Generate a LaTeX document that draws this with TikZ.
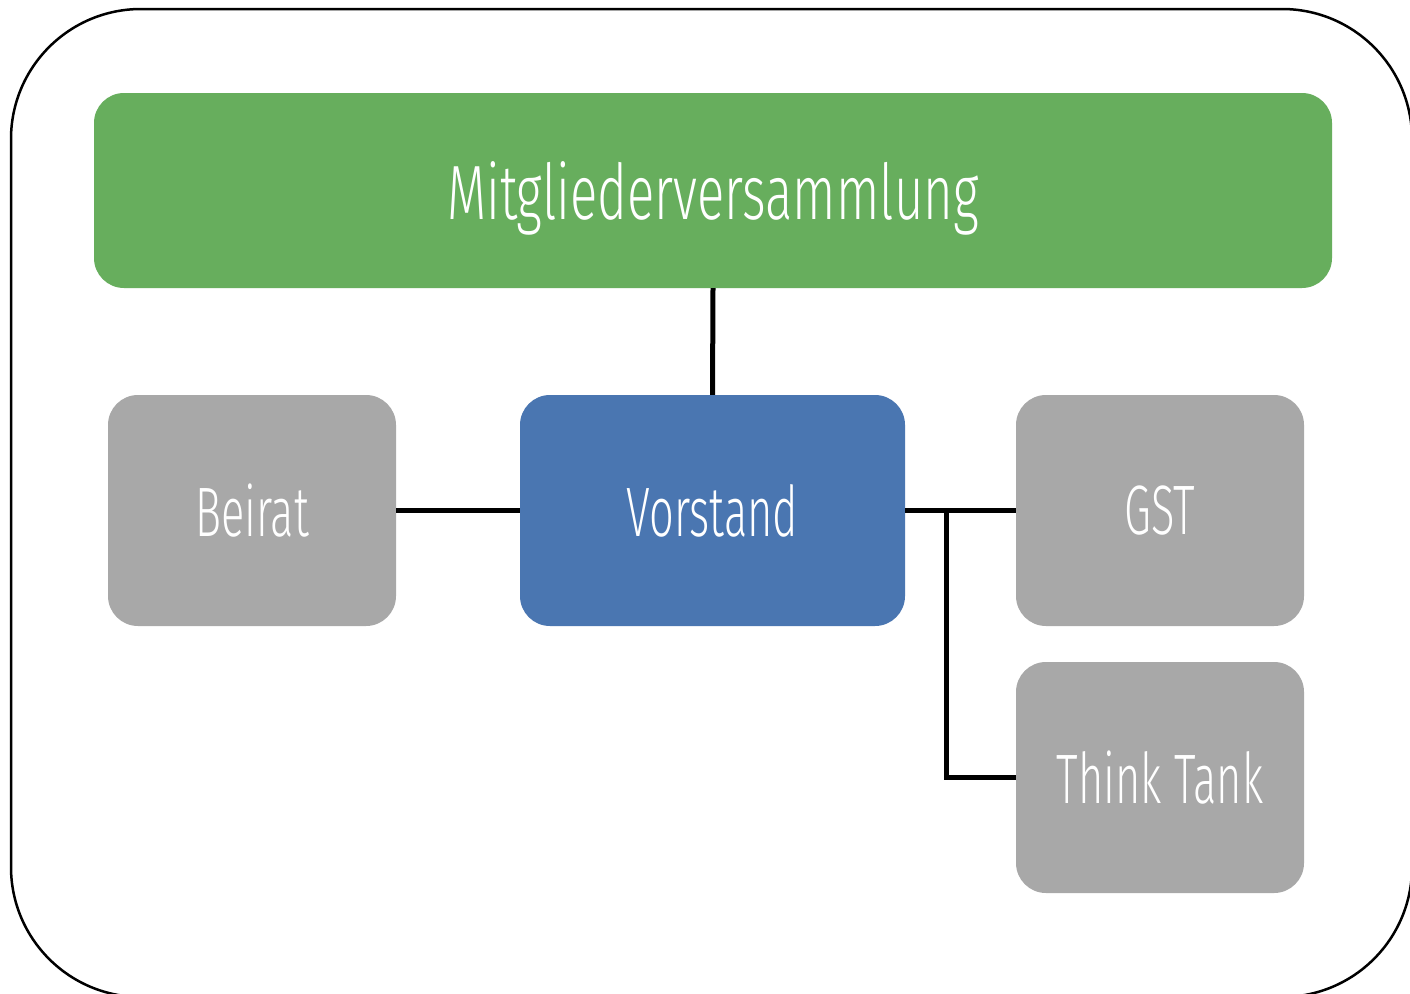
\documentclass[tikz,border=0pt]{standalone}
\usepackage{fontspec}
\newfontfamily\lblfont[FakeStretch=0.62]{Fira Sans Light}
\newfontfamily\headfont[FakeStretch=0.66]{Fira Sans Light}
\definecolor{mvgreen}{HTML}{67AE5D}
\definecolor{vsblue}{HTML}{4A76B1}
\definecolor{boxgray}{HTML}{A8A8A8}
\tikzset{
  orgbox/.style={rectangle, rounded corners=30pt, inner sep=0pt, text=white,
    text depth=0pt, font=\lblfont\fontsize{70}{70}\selectfont,
    minimum width=288pt, minimum height=231pt},
  link/.style={line width=5pt, black},
  frame/.style={line width=2.5pt, black, rounded corners=130pt}
}
\begin{document}
\begin{tikzpicture}[x=1pt,y=-1pt]
  \clip (0,0) rectangle (1410,993);
  \fill[white] (0,0) rectangle (1410,993);
  \draw[frame] (11,9) rectangle (1412,997);

  \node[orgbox, fill=mvgreen, minimum width=1238pt, minimum height=195pt,
        font=\headfont\fontsize{77}{77}\selectfont] (mv) at (713,190.5) {Mitgliederversammlung};
  \node[orgbox, fill=vsblue, minimum width=385pt] (vs) at (712.5,510.5) {Vorstand};
  \node[orgbox, fill=boxgray] (br) at (252,510.5) {Beirat};
  \node[orgbox, fill=boxgray] (gst) at (1160,510.5) {GST};
  \node[orgbox, fill=boxgray] (tt) at (1160,777.5) {Think Tank};

  \coordinate (fork) at (946,510.5);
  \draw[link] (mv.south) -- (vs.north);
  \draw[link] (br.east) -- (vs.west);
  \draw[link] (vs.east) -- (gst.west);
  \draw[link] (fork) |- (tt.west);
\end{tikzpicture}
\end{document}
